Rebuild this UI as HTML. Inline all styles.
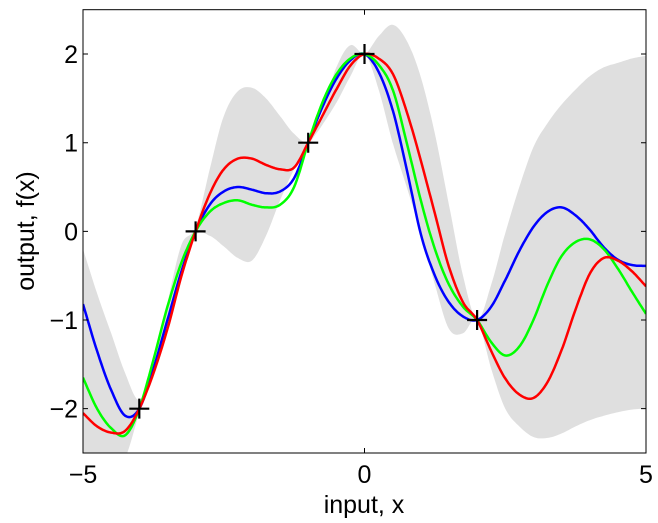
<!DOCTYPE html>
<html><head><meta charset="utf-8"><style>
html,body{margin:0;padding:0;background:#fff;}
svg{display:block;font-family:"Liberation Sans",sans-serif;}
</style></head><body>
<svg id="chart" width="658" height="523" viewBox="0 0 658 523" xmlns="http://www.w3.org/2000/svg">
<defs><clipPath id="clip"><rect x="83" y="9.7" width="563" height="443.3"/></clipPath></defs>
<rect x="0" y="0" width="658" height="523" fill="#fff"/>
<g id="plot" clip-path="url(#clip)"></g>
<g id="axes"></g>
<text x="364" y="513" font-size="25" text-anchor="middle">input, x</text>
<text transform="translate(34,231) rotate(-90)" font-size="25" text-anchor="middle">output, f(x)</text>
</svg>
<script>
const xs = [-5,-4.75,-4.5,-4.25,-4,-3.75,-3.5,-3.25,-3,-2.75,-2.5,-2.25,-2,-1.75,-1.5,-1.25,-1,-0.75,-0.5,-0.25,0,0.25,0.5,0.75,1,1.25,1.5,1.75,2,2.25,2.5,2.75,3,3.25,3.5,3.75,4,4.25,4.5,4.75,5];
const bandUpper = [-0.2,-0.7,-1.15,-1.6,-1.9,-1.5,-0.8,-0.15,0.05,0.7,1.3,1.58,1.62,1.5,1.3,1.1,1.02,1.35,1.85,2.1,2.0,2.2,2.33,2.15,1.74,1.1,0.3,-0.5,-1.0,-0.6,-0.02,0.5,0.95,1.22,1.43,1.6,1.75,1.85,1.9,1.95,1.98];
const bandLower = [-2.8,-2.7,-2.65,-2.55,-2.05,-1.65,-1.15,-0.55,-0.05,-0.05,-0.17,-0.3,-0.33,-0.05,0.35,0.7,0.97,1.2,1.45,1.75,2.0,1.6,1.0,0.5,-0.02,-0.6,-1.1,-1.15,-1.0,-1.55,-2.0,-2.2,-2.32,-2.33,-2.28,-2.2,-2.13,-2.08,-2.04,-2.01,-2.0];
const blueSample = [-0.82,-1.35,-1.79,-2.08,-2.0,-1.55,-1.0,-0.45,0,0.3,0.45,0.5,0.47,0.43,0.45,0.6,1.0,1.4,1.72,1.93,2.0,1.8,1.37,0.7,-0.03,-0.5,-0.8,-0.96,-1.0,-0.85,-0.55,-0.22,0.05,0.22,0.27,0.18,0.02,-0.18,-0.32,-0.38,-0.39];
const greenSample = [-1.65,-2.0,-2.22,-2.3,-2.0,-1.45,-0.85,-0.35,0,0.22,0.32,0.35,0.3,0.27,0.3,0.5,1.0,1.45,1.77,1.95,2.0,1.88,1.6,1.0,0.35,-0.2,-0.6,-0.85,-1.0,-1.25,-1.4,-1.3,-1.0,-0.6,-0.28,-0.12,-0.09,-0.2,-0.42,-0.68,-0.93];
const redSample = [-2.05,-2.2,-2.27,-2.25,-2.0,-1.6,-1.1,-0.5,0,0.42,0.7,0.82,0.82,0.75,0.7,0.72,1.0,1.3,1.6,1.87,2.0,1.95,1.78,1.35,0.8,0.2,-0.4,-0.8,-1.0,-1.35,-1.66,-1.84,-1.88,-1.7,-1.34,-0.88,-0.48,-0.3,-0.33,-0.45,-0.62];
const obsX = [-4,-3,-1,0,2];
const obsY = [-2,0,1,2,-1];
const xTicks = [-5,0,5];
const xTickLabels = ["\u22125","0","5"];
const yTicks = [-2,-1,0,1,2];
const yTickLabels = ["\u22122","\u22121","0","1","2"];

const L=83,R=646,T=9.7,B=453;
const sx = v => L + (v+5)/10*(R-L);
const sy = v => B - (v+2.5)/5*(B-T);
const NS="http://www.w3.org/2000/svg";
function el(tag, attrs, parent){const e=document.createElementNS(NS,tag);for(const k in attrs)e.setAttribute(k,attrs[k]);parent.appendChild(e);return e;}
function smoothPts(ys){
  const pts=xs.map((x,i)=>[sx(x),sy(ys[i])]);
  const out=[];
  for(let i=0;i<pts.length-1;i++){
    const p0=pts[Math.max(0,i-1)],p1=pts[i],p2=pts[i+1],p3=pts[Math.min(pts.length-1,i+2)];
    for(let t=0;t<1;t+=0.1){
      const t2=t*t,t3=t2*t;
      const f=(a,b,c,d)=>0.5*((2*b)+(-a+c)*t+(2*a-5*b+4*c-d)*t2+(-a+3*b-3*c+d)*t3);
      out.push([f(p0[0],p1[0],p2[0],p3[0]),f(p0[1],p1[1],p2[1],p3[1])]);
    }
  }
  out.push(pts[pts.length-1]);
  return out;
}
const plot=document.getElementById('plot');
const up=smoothPts(bandUpper), lo=smoothPts(bandLower).reverse();
const band=el('path',{d:'M'+up.concat(lo).map(p=>p[0].toFixed(1)+','+p[1].toFixed(1)).join('L')+'Z',fill:'#dfdfdf',stroke:'none'},plot);


const series=[[blueSample,'#0000ff','blue-sample-line'],[greenSample,'#00ff00','green-sample-line'],[redSample,'#ff0000','red-sample-line']];
series.forEach(s=>{
  const p=el('path',{d:'M'+smoothPts(s[0]).map(q=>q[0].toFixed(1)+','+q[1].toFixed(1)).join('L'),fill:'none',stroke:s[1],'stroke-width':2.5,'stroke-linejoin':'round'},plot);
  
  
});
obsX.forEach((x,i)=>{
  const cx=sx(x),cy=sy(obsY[i]);
  const g=el('path',{d:`M${cx-10},${cy}H${cx+10}M${cx},${cy-10}V${cy+10}`,stroke:'#000','stroke-width':2.2,fill:'none'},plot);
  
  
});
const axes=document.getElementById('axes');
const fr=el('rect',{x:L,y:T,width:R-L,height:B-T,fill:'none',stroke:'#000','stroke-width':1},axes);


xTicks.forEach((v,i)=>{
  const x=sx(v);
  el('path',{d:`M${x},${B}V${B-5}M${x},${T}V${T+5}`,stroke:'#000','stroke-width':1},axes);
  const t=el('text',{x:x,y:483,'font-size':25,'text-anchor':'middle'},axes);
  t.textContent=xTickLabels[i];
  
  
});
yTicks.forEach((v,i)=>{
  const y=sy(v);
  el('path',{d:`M${L},${y}H${L+5}M${R},${y}H${R-5}`,stroke:'#000','stroke-width':1},axes);
  const t=el('text',{x:78,y:y+9,'font-size':25,'text-anchor':'end'},axes);
  t.textContent=yTickLabels[i];
  
  
});
</script>
</body></html>
